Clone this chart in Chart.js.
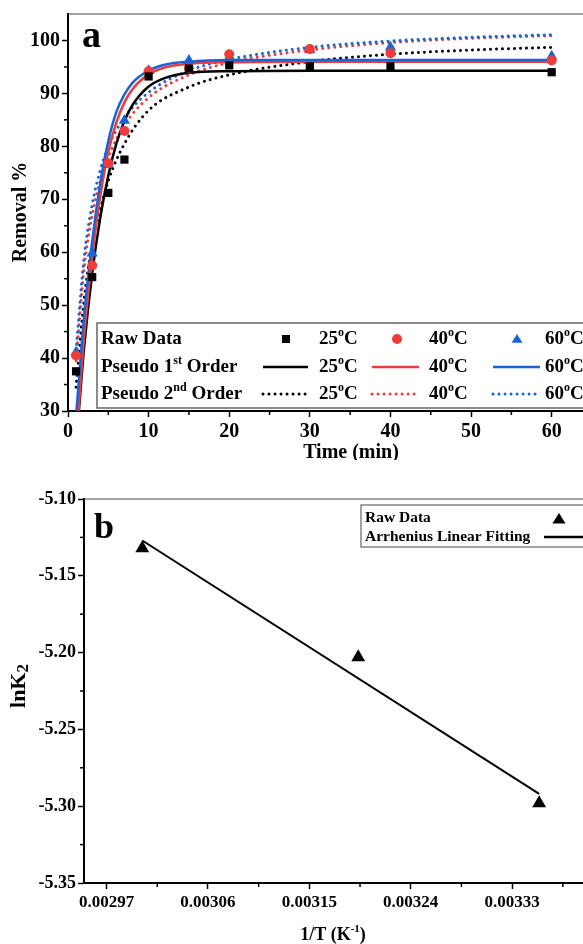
<!DOCTYPE html>
<html>
<head>
<meta charset="utf-8">
<script src="https://cdn.jsdelivr.net/npm/chart.js@4.4.1/dist/chart.umd.min.js"></script>
<style>
    html, body { margin: 0; padding: 0; background: #fff; overflow: hidden; width: 583px; height: 944px; }
    #wrapA { position: absolute; left: 0; top: 0; }
    #wrapB { position: absolute; left: 0; top: 460px; }
</style>
</head>
<body>
<div id="wrapA"><canvas id="chartA" width="600" height="460"></canvas></div>
<div id="wrapB"><canvas id="chartB" width="600" height="484"></canvas></div>
<script>
// ---- panel a: removal % vs time ----
const times = [1, 3, 5, 7, 10, 15, 20, 30, 40, 60];
const raw25 = [37.5, 55.3, 71.2, 77.5, 93.2, 94.7, 95.3, 95.1, 95.1, 94.0];
const raw40 = [40.5, 57.5, 76.8, 82.9, 94.2, 94.7, 97.4, 98.4, 97.6, 96.2];
const raw60 = [41.1, 59.8, 76.5, 84.9, 94.3, 96.2, 96.8, 98.2, 98.7, 97.0];

// pseudo 1st order curves
const first25T = [1.35, 2, 3, 4, 5, 6, 7, 8, 10, 12, 15, 20, 30, 60];
const first25 = [30, 42, 56, 66.5, 74.5, 80.5, 84.8, 87.8, 91.3, 92.9, 93.9, 94.2, 94.3, 94.3];
const first40T = [1.3, 2, 3, 4, 5, 6, 7, 8, 10, 12, 15, 20, 30, 60];
const first40 = [30, 44, 59, 70.5, 79, 84.5, 88.3, 90.8, 93.6, 94.9, 95.6, 95.9, 96.0, 96.0];
const first60T = [1.05, 2, 3, 4, 5, 6, 7, 8, 10, 12, 15, 20, 30, 60];
const first60 = [30, 48, 62, 73, 81, 86.5, 89.8, 92, 94.3, 95.4, 96.0, 96.3, 96.3, 96.3];

// pseudo 2nd order curves
const secondT = [1, 2, 3, 4, 5, 7, 10, 15, 20, 30, 40, 50, 60];
const second25 = [34.5, 51, 61.5, 68, 73.5, 80.5, 86.8, 91.2, 93.5, 96.0, 97.4, 98.2, 98.7];
const second40 = [39.5, 57, 67, 73.5, 78, 84, 89.2, 93.5, 95.8, 98.2, 99.6, 100.4, 100.9];
const second60 = [41.5, 59, 69, 75.5, 80, 85.4, 90.2, 94.3, 96.4, 98.7, 99.9, 100.6, 101.1];

const timeTicks = [0, 10, 20, 30, 40, 50, 60];
const timeMinor = [5, 15, 25, 35, 45, 55];
const removalTicks = [30, 40, 50, 60, 70, 80, 90, 100];
const removalMinor = [35, 45, 55, 65, 75, 85, 95];

// ---- panel b: Arrhenius plot ----
const invT = [0.0030017, 0.0031934, 0.0033540];
const lnK2 = [-5.132, -5.203, -5.298];
const fitInvT = [0.0030017, 0.0033540];
const fitLnK2 = [-5.127, -5.292];

const invTTicks = [0.00297, 0.00306, 0.00315, 0.00324, 0.00333];
const invTMinor = [0.003015, 0.003105, 0.003195, 0.003285, 0.003375];
const lnKTicks = [-5.35, -5.30, -5.25, -5.20, -5.15, -5.10];
const lnKMinor = [-5.325, -5.275, -5.225, -5.175, -5.125];

const BLACK = '#000000';
const RED = '#EE3B3B';
const BLUE = '#1565D8';
const SERIF = '"Liberation Serif", "Times New Roman", serif';

function font(size) {
    return 'bold ' + size + 'px ' + SERIF;
}

function toXY(xs, ys) {
    return xs.map((x, i) => ({ x: x, y: ys[i] }));
}

// text with superscript / subscript parts
function partSize(m, size) {
    if (m === 'sup') return Math.round(size * 0.62);
    if (m === 'sub') return Math.round(size * 0.78);
    return size;
}

function measureRich(ctx, parts, size) {
    let w = 0;
    parts.forEach(([t, m]) => {
        ctx.font = font(partSize(m, size));
        w += ctx.measureText(t).width;
    });
    return w;
}

function drawRich(ctx, parts, x, y, size) {
    ctx.textBaseline = 'middle';
    ctx.textAlign = 'left';
    ctx.fillStyle = BLACK;
    let cx = x;
    parts.forEach(([t, m]) => {
        ctx.font = font(partSize(m, size));
        const dy = m === 'sup' ? -size * 0.33 : (m === 'sub' ? size * 0.22 : 0);
        ctx.fillText(t, cx, y + dy);
        cx += ctx.measureText(t).width;
    });
    return cx;
}

function drawMarker(ctx, shape, x, y, color, r) {
    ctx.fillStyle = color;
    ctx.beginPath();
    if (shape === 'rect') {
        ctx.rect(x - r, y - r, 2 * r, 2 * r);
    } else if (shape === 'circle') {
        ctx.arc(x, y, r, 0, Math.PI * 2);
    } else {
        ctx.moveTo(x, y - r);
        ctx.lineTo(x + r * 1.1, y + r * 0.75);
        ctx.lineTo(x - r * 1.1, y + r * 0.75);
        ctx.closePath();
    }
    ctx.fill();
}

function drawSample(ctx, x1, x2, y, color, dotted) {
    ctx.save();
    ctx.strokeStyle = color;
    ctx.lineWidth = dotted ? 3 : 2.5;
    ctx.lineCap = dotted ? 'round' : 'butt';
    ctx.setLineDash(dotted ? [0.01, 6] : []);
    ctx.beginPath();
    ctx.moveTo(x1, y);
    ctx.lineTo(x2, y);
    ctx.stroke();
    ctx.restore();
}

// frame, minor ticks, titles and legend boxes
const framePlugin = {
    id: 'frame',
    afterDraw(chart, args, opts) {
        const ctx = chart.ctx;
        const a = chart.chartArea;
        const xs = chart.scales.x;
        const ys = chart.scales.y;
        ctx.save();
        ctx.strokeStyle = '#444';
        ctx.lineWidth = 1.2;
        ctx.beginPath();
        ctx.moveTo(a.left, a.top);
        ctx.lineTo(a.right, a.top);
        ctx.lineTo(a.right, a.bottom);
        ctx.stroke();

        ctx.strokeStyle = BLACK;
        ctx.lineWidth = 1.5;
        opts.minorX.forEach(v => {
            const px = xs.getPixelForValue(v);
            ctx.beginPath();
            ctx.moveTo(px, a.bottom);
            ctx.lineTo(px, a.bottom + 4);
            ctx.stroke();
        });
        opts.minorY.forEach(v => {
            const py = ys.getPixelForValue(v);
            ctx.beginPath();
            ctx.moveTo(a.left, py);
            ctx.lineTo(a.left - 4, py);
            ctx.stroke();
        });

        // panel letter
        ctx.fillStyle = BLACK;
        ctx.font = font(opts.letterSize);
        ctx.textAlign = 'left';
        ctx.textBaseline = 'alphabetic';
        ctx.fillText(opts.letter, opts.letterX, opts.letterY);

        // x title
        const xw = measureRich(ctx, opts.xTitle, opts.titleSize);
        drawRich(ctx, opts.xTitle, opts.xTitleX - xw / 2, opts.xTitleY, opts.titleSize);

        // y title, rotated
        const ySize = opts.yTitleSize || opts.titleSize;
        const yw = measureRich(ctx, opts.yTitle, ySize);
        ctx.save();
        ctx.translate(opts.yTitleX, opts.yTitleY);
        ctx.rotate(-Math.PI / 2);
        drawRich(ctx, opts.yTitle, -yw / 2, 0, ySize);
        ctx.restore();

        if (opts.legend) opts.legend(ctx);
        ctx.restore();
    }
};

function legendA(ctx) {
    ctx.fillStyle = '#fff';
    ctx.fillRect(97, 323, 510, 85);
    ctx.strokeStyle = '#666';
    ctx.lineWidth = 1.5;
    ctx.strokeRect(97, 323, 510, 85);
    const rows = [339, 367, 394];
    const size = 19;
    drawRich(ctx, [['Raw Data', '']], 101, rows[0], size);
    drawRich(ctx, [['Pseudo 1', ''], ['st', 'sup'], [' Order', '']], 101, rows[1], size);
    drawRich(ctx, [['Pseudo 2', ''], ['nd', 'sup'], [' Order', '']], 101, rows[2], size);

    const cols = [
        { c: BLACK, shape: 'rect', mx: 286, l1: 263, l2: 308, tx: 319, label: '25' },
        { c: RED, shape: 'circle', mx: 397, l1: 372, l2: 419, tx: 429, label: '40' },
        { c: BLUE, shape: 'tri', mx: 517, l1: 493, l2: 540, tx: 545, label: '60' }
    ];
    cols.forEach(col => {
        drawMarker(ctx, col.shape, col.mx, rows[0], col.c, col.shape === 'rect' ? 4 : 5);
        drawSample(ctx, col.l1, col.l2, rows[1], col.c, false);
        drawSample(ctx, col.l1, col.l2, rows[2], col.c, true);
        rows.forEach(r => {
            drawRich(ctx, [[col.label, ''], ['o', 'sup'], ['C', '']], col.tx, r, size);
        });
    });
}

function legendB(ctx) {
    ctx.fillStyle = '#fff';
    ctx.fillRect(361, 45, 250, 42);
    ctx.strokeStyle = '#666';
    ctx.lineWidth = 1.2;
    ctx.strokeRect(361, 45, 250, 42);
    drawRich(ctx, [['Raw Data', '']], 365, 58, 15.5);
    drawRich(ctx, [['Arrhenius Linear Fitting', '']], 365, 77, 15.5);
    drawMarker(ctx, 'tri', 559, 59, BLACK, 6);
    drawSample(ctx, 544, 600, 77, BLACK, false);
}

function axisOpts(min, max, ticks, fmt, size, fitSize, isX) {
    return {
        type: 'linear',
        min: min,
        max: max,
        afterBuildTicks: s => { s.ticks = ticks.map(v => ({ value: v })); },
        afterFit: s => { if (isX) s.height = fitSize; else s.width = fitSize; },
        grid: { display: true, drawOnChartArea: false, drawTicks: true, tickLength: 6, tickColor: BLACK, tickWidth: 1.5 },
        border: { display: true, color: BLACK, width: 2 },
        ticks: {
            color: BLACK,
            padding: isX ? 3 : 2,
            maxRotation: 0,
            autoSkip: false,
            font: { family: SERIF, weight: 'bold', size: size },
            callback: fmt
        }
    };
}

Chart.defaults.font.family = SERIF;

const curve = (label, xs, ys, color, dotted) => ({
    label: label,
    data: toXY(xs, ys),
    showLine: true,
    borderColor: color,
    borderWidth: dotted ? 3 : 2.5,
    borderDash: dotted ? [0.01, 6] : [],
    borderCapStyle: dotted ? 'round' : 'butt',
    cubicInterpolationMode: 'monotone',
    pointRadius: 0
});

const points = (label, ys, color, style, r) => ({
    label: label,
    data: toXY(times, ys),
    showLine: false,
    backgroundColor: color,
    borderColor: color,
    pointStyle: style,
    pointRadius: r,
    borderWidth: 0
});

new Chart(document.getElementById('chartA'), {
    type: 'scatter',
    data: {
        datasets: [
            points('Raw 25', raw25, BLACK, 'rect', 5.8),
            points('Raw 40', raw40, RED, 'circle', 5),
            points('Raw 60', raw60, BLUE, 'triangle', 6.5),
            curve('1st 60', first60T, first60, BLUE, false),
            curve('1st 40', first40T, first40, RED, false),
            curve('1st 25', first25T, first25, BLACK, false),
            curve('2nd 60', secondT, second60, BLUE, true),
            curve('2nd 40', secondT, second40, RED, true),
            curve('2nd 25', secondT, second25, BLACK, true)
        ]
    },
    options: {
        responsive: false,
        animation: false,
        layout: { padding: { top: 13, right: 8, left: 0, bottom: 0 } },
        scales: {
            x: axisOpts(0, 65, timeTicks, v => String(v), 20, 49, true),
            y: axisOpts(30, 105, removalTicks, v => String(v), 20, 68, false)
        },
        plugins: {
            legend: { display: false },
            tooltip: { enabled: false },
            frame: {
                minorX: timeMinor,
                minorY: removalMinor,
                letter: 'a', letterSize: 38, letterX: 82, letterY: 47,
                titleSize: 20,
                xTitle: [['Time (min)', '']], xTitleX: 351, xTitleY: 453,
                yTitle: [['Removal %', '']], yTitleX: 21, yTitleY: 212,
                legend: legendA
            }
        }
    },
    plugins: [framePlugin]
});

new Chart(document.getElementById('chartB'), {
    type: 'scatter',
    data: {
        datasets: [
            {
                label: 'Raw Data',
                data: toXY(invT, lnK2),
                showLine: false,
                backgroundColor: BLACK,
                pointStyle: 'triangle',
                pointRadius: 8,
                borderWidth: 0
            },
            {
                label: 'Arrhenius Linear Fitting',
                data: toXY(fitInvT, fitLnK2),
                showLine: true,
                borderColor: BLACK,
                borderWidth: 2,
                pointRadius: 0
            }
        ]
    },
    options: {
        responsive: false,
        animation: false,
        layout: { padding: { top: 39, right: 9, left: 0, bottom: 0 } },
        scales: {
            x: axisOpts(0.00295, 0.0034, invTTicks, v => v.toFixed(5), 17, 61, true),
            y: axisOpts(-5.35, -5.10, lnKTicks, v => v.toFixed(2), 18, 84, false)
        },
        plugins: {
            legend: { display: false },
            tooltip: { enabled: false },
            frame: {
                minorX: invTMinor,
                minorY: lnKMinor,
                letter: 'b', letterSize: 36, letterX: 94, letterY: 78,
                titleSize: 18,
                xTitle: [['1/T (K', ''], ['-1', 'sup'], [')', '']], xTitleX: 333, xTitleY: 475,
                yTitle: [['lnK', ''], ['2', 'sub']], yTitleX: 19, yTitleY: 226, yTitleSize: 22,
                legend: legendB
            }
        }
    },
    plugins: [framePlugin]
});
</script>
</body>
</html>
